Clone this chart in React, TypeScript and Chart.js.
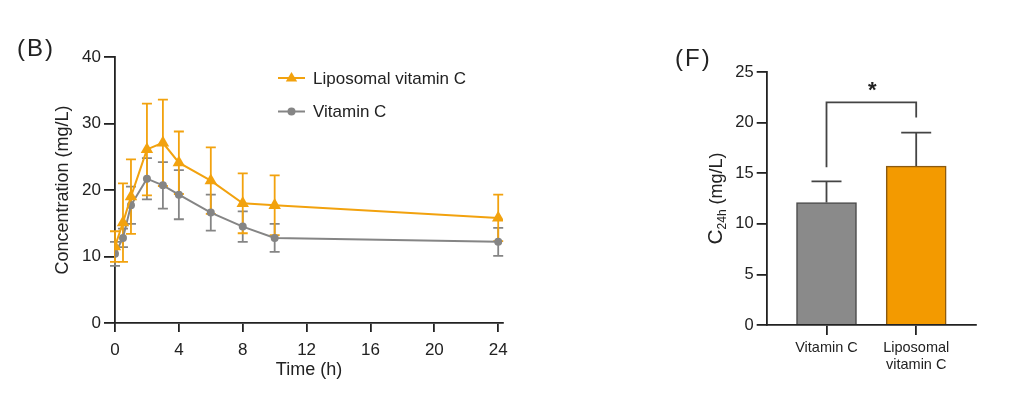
import { useEffect, useRef } from 'react';
import { Chart, registerables } from 'chart.js';

Chart.register(...registerables);

const FONT = '"Liberation Sans", Arial, Helvetica, sans-serif';
const INK = '#222222';
const ORANGE_LINE = '#F2A20E';
const GRAY_LINE = '#858585';
const ORANGE_BAR = '#F39A00';
const GRAY_BAR = '#8A8A8A';

// (B) plasma concentration vs time
const timePoints = [0, 0.5, 1, 2, 3, 4, 6, 8, 10, 24];
const liposomalMean = [11.5, 15.1, 19.0, 26.1, 27.1, 24.1, 21.4, 18.0, 17.7, 15.8];
const liposomalSD = [2.3, 5.9, 5.6, 6.9, 6.5, 4.7, 5.0, 4.5, 4.5, 3.5];
const vitaminCMean = [10.4, 12.8, 17.7, 21.7, 20.7, 19.3, 16.6, 14.5, 12.8, 12.2];
const vitaminCSD = [1.8, 1.4, 2.8, 3.1, 3.5, 3.7, 2.7, 2.3, 2.1, 2.1];
const timeTicks = [0, 4, 8, 12, 16, 20, 24];
const concTicks = [0, 10, 20, 30, 40];
const seriesNames = ['Liposomal vitamin C', 'Vitamin C'];

// (F) C24h bars
const groupLabels = [['Vitamin C'], ['Liposomal', 'vitamin C']];
const c24hMean = [12.1, 15.7];
const c24hSD = [2.1, 3.3];
const c24hTicks = [0, 5, 10, 15, 20, 25];
// significance bracket: top level, left/right leg ends, star level
const bracketTop = 22.0;
const bracketLegs = [15.6, 20.5];
const starLevel = 23.5;

function PkChart() {
  const canvasRef = useRef<HTMLCanvasElement>(null);

  useEffect(() => {
    if (!canvasRef.current) return;
    const sds = [liposomalSD, vitaminCSD];

    const errorBars = {
      id: 'errorBars',
      beforeDatasetsDraw(chart: any) {
        const { ctx, scales: { x, y } } = chart;
        ctx.save();
        for (let i = chart.data.datasets.length - 1; i >= 0; i--) {
          const ds = chart.data.datasets[i];
          ctx.strokeStyle = ds.borderColor;
          ctx.lineWidth = 1.8;
          ds.data.forEach((p: any, j: number) => {
            const px = x.getPixelForValue(p.x);
            const top = y.getPixelForValue(p.y + sds[i][j]);
            const bot = y.getPixelForValue(p.y - sds[i][j]);
            ctx.beginPath();
            ctx.moveTo(px, top);
            ctx.lineTo(px, bot);
            ctx.moveTo(px - 5, top);
            ctx.lineTo(px + 5, top);
            ctx.moveTo(px - 5, bot);
            ctx.lineTo(px + 5, bot);
            ctx.stroke();
          });
        }
        ctx.restore();
      },
    };

    const legend = {
      id: 'lineLegend',
      afterDraw(chart: any) {
        const { ctx, chartArea } = chart;
        ctx.save();
        chart.data.datasets.forEach((ds: any, i: number) => {
          const x0 = chartArea.left + 163;
          const yy = chartArea.top + 21 + i * 33.5;
          ctx.strokeStyle = ds.borderColor;
          ctx.fillStyle = ds.borderColor;
          ctx.lineWidth = 2;
          ctx.beginPath();
          ctx.moveTo(x0, yy);
          ctx.lineTo(x0 + 27, yy);
          ctx.stroke();
          const cx = x0 + 13.5;
          ctx.beginPath();
          if (ds.pointStyle === 'triangle') {
            const r = 6;
            ctx.moveTo(cx, yy - r);
            ctx.lineTo(cx + r * 0.95, yy + r * 0.6);
            ctx.lineTo(cx - r * 0.95, yy + r * 0.6);
            ctx.closePath();
          } else {
            ctx.arc(cx, yy, 4, 0, Math.PI * 2);
          }
          ctx.fill();
          ctx.fillStyle = INK;
          ctx.font = `17px ${FONT}`;
          ctx.textBaseline = 'middle';
          ctx.fillText(ds.label, x0 + 35, yy + 1);
        });
        ctx.restore();
      },
    };

    const chart = new Chart(canvasRef.current, {
      type: 'line',
      data: {
        datasets: [
          {
            label: seriesNames[0],
            data: timePoints.map((t, i) => ({ x: t, y: liposomalMean[i] })),
            borderColor: ORANGE_LINE,
            backgroundColor: ORANGE_LINE,
            borderWidth: 2,
            pointStyle: 'triangle',
            pointRadius: 7.2,
            pointBorderWidth: 0,
          },
          {
            label: seriesNames[1],
            data: timePoints.map((t, i) => ({ x: t, y: vitaminCMean[i] })),
            borderColor: GRAY_LINE,
            backgroundColor: GRAY_LINE,
            borderWidth: 2,
            pointStyle: 'circle',
            pointRadius: 4,
            pointBorderWidth: 0,
          },
        ],
      },
      options: {
        animation: false,
        responsive: true,
        maintainAspectRatio: false,
        layout: { padding: { left: 45, top: 57, right: 17, bottom: 35 } },
        plugins: { legend: { display: false }, tooltip: { enabled: false } },
        scales: {
          x: {
            type: 'linear',
            min: 0,
            max: 24.3,
            afterFit: (s: any) => { s.height = 60; },
            afterBuildTicks: (s: any) => { s.ticks = timeTicks.map((v) => ({ value: v })); },
            ticks: { color: INK, font: { family: FONT, size: 17 }, padding: 8, maxRotation: 0 },
            grid: { drawOnChartArea: false, drawTicks: true, tickLength: 9, color: INK, lineWidth: 1.8 },
            border: { color: INK, width: 1.8 },
            title: { display: true, text: 'Time (h)', color: INK, font: { family: FONT, size: 18 }, padding: { top: 0, bottom: 2 } },
          },
          y: {
            min: 0,
            max: 40,
            afterFit: (s: any) => { s.width = 70; },
            afterBuildTicks: (s: any) => { s.ticks = concTicks.map((v) => ({ value: v })); },
            ticks: { color: INK, font: { family: FONT, size: 17 }, padding: 3 },
            grid: { drawOnChartArea: false, drawTicks: true, tickLength: 11, color: INK, lineWidth: 1.8 },
            border: { color: INK, width: 1.8 },
            title: { display: true, text: 'Concentration (mg/L)', color: INK, font: { family: FONT, size: 18 }, padding: { top: 7, bottom: 0 } },
          },
        },
      },
      plugins: [errorBars, legend],
    } as any);

    return () => chart.destroy();
  }, []);

  return <canvas ref={canvasRef} />;
}

function C24hChart() {
  const canvasRef = useRef<HTMLCanvasElement>(null);

  useEffect(() => {
    if (!canvasRef.current) return;

    const extras = {
      id: 'barExtras',
      afterDatasetsDraw(chart: any) {
        const { ctx, scales: { x, y }, chartArea } = chart;
        ctx.save();
        ctx.strokeStyle = '#444444';
        ctx.lineWidth = 1.8;
        // upper error bars
        c24hMean.forEach((m, i) => {
          const px = x.getPixelForValue(i);
          const top = y.getPixelForValue(m + c24hSD[i]);
          ctx.beginPath();
          ctx.moveTo(px, y.getPixelForValue(m));
          ctx.lineTo(px, top);
          ctx.moveTo(px - 15, top);
          ctx.lineTo(px + 15, top);
          ctx.stroke();
        });
        // significance bracket
        const xl = x.getPixelForValue(0);
        const xr = x.getPixelForValue(1);
        ctx.beginPath();
        ctx.moveTo(xl, y.getPixelForValue(bracketLegs[0]));
        ctx.lineTo(xl, y.getPixelForValue(bracketTop));
        ctx.lineTo(xr, y.getPixelForValue(bracketTop));
        ctx.lineTo(xr, y.getPixelForValue(bracketLegs[1]));
        ctx.stroke();
        ctx.fillStyle = INK;
        ctx.font = `bold 22px ${FONT}`;
        ctx.textAlign = 'center';
        ctx.textBaseline = 'alphabetic';
        ctx.fillText('*', x.getPixelForValue(0.5) + 1, y.getPixelForValue(starLevel) + 10);

        // y title with subscript
        const cx = chartArea.left - 50;
        const cy = (chartArea.top + chartArea.bottom) / 2;
        ctx.translate(cx, cy);
        ctx.rotate(-Math.PI / 2);
        ctx.textAlign = 'left';
        ctx.textBaseline = 'middle';
        const parts = [
          { t: 'C', f: `21px ${FONT}`, dy: 0 },
          { t: '24h', f: `12px ${FONT}`, dy: 6 },
          { t: ' (mg/L)', f: `18px ${FONT}`, dy: 0 },
        ];
        let total = 0;
        parts.forEach((p) => { ctx.font = p.f; total += ctx.measureText(p.t).width; });
        let xx = -total / 2;
        parts.forEach((p) => {
          ctx.font = p.f;
          ctx.fillText(p.t, xx, p.dy);
          xx += ctx.measureText(p.t).width;
        });
        ctx.restore();
      },
    };

    const chart = new Chart(canvasRef.current, {
      type: 'bar',
      data: {
        datasets: [
          {
            data: c24hMean.map((v, i) => ({ x: i, y: v })),
            backgroundColor: [GRAY_BAR, ORANGE_BAR],
            borderColor: ['#4A4A4A', '#8A5A10'],
            borderWidth: 1.5,
            barThickness: 60,
          },
        ],
      },
      options: {
        animation: false,
        responsive: true,
        maintainAspectRatio: false,
        layout: { padding: { left: 40, top: 72, right: 48, bottom: 38 } },
        plugins: { legend: { display: false }, tooltip: { enabled: false } },
        scales: {
          x: {
            type: 'linear',
            min: -2 / 3,
            max: 5 / 3,
            offset: false,
            afterFit: (s: any) => { s.height = 55; },
            afterBuildTicks: (s: any) => { s.ticks = groupLabels.map((_, i) => ({ value: i })); },
            ticks: {
              color: INK,
              font: { family: FONT, size: 14.5 },
              padding: 4,
              maxRotation: 0,
              callback: (v: any) => groupLabels[Math.round(Number(v))] ?? '',
            },
            grid: { offset: false, drawOnChartArea: false, drawTicks: true, tickLength: 10, color: INK, lineWidth: 1.8 },
            border: { color: INK, width: 1.8 },
          },
          y: {
            min: 0,
            max: 25,
            afterFit: (s: any) => { s.width = 66.7; },
            afterBuildTicks: (s: any) => { s.ticks = c24hTicks.map((v) => ({ value: v })); },
            ticks: { color: INK, font: { family: FONT, size: 16.5 }, padding: 3 },
            grid: { drawOnChartArea: false, drawTicks: true, tickLength: 10, color: INK, lineWidth: 1.8 },
            border: { color: INK, width: 1.8 },
          },
        },
      },
      plugins: [extras],
    } as any);

    return () => chart.destroy();
  }, []);

  return <canvas ref={canvasRef} />;
}

export default function App() {
  const panelLabel = {
    position: 'absolute' as const,
    fontFamily: FONT,
    fontSize: 24,
    lineHeight: '24px',
    letterSpacing: 2,
    color: INK,
  };
  return (
    <div style={{ position: 'absolute', left: 0, top: 0, width: 1024, height: 418, background: '#fff', overflow: 'hidden' }}>
      <div style={{ position: 'absolute', left: 0, top: 0, width: 520, height: 418 }}>
        <PkChart />
      </div>
      <div style={{ position: 'absolute', left: 660, top: 0, width: 364, height: 418 }}>
        <C24hChart />
      </div>
      <div style={{ ...panelLabel, left: 17, top: 36 }}>(B)</div>
      <div style={{ ...panelLabel, left: 675, top: 46 }}>(F)</div>
    </div>
  );
}
